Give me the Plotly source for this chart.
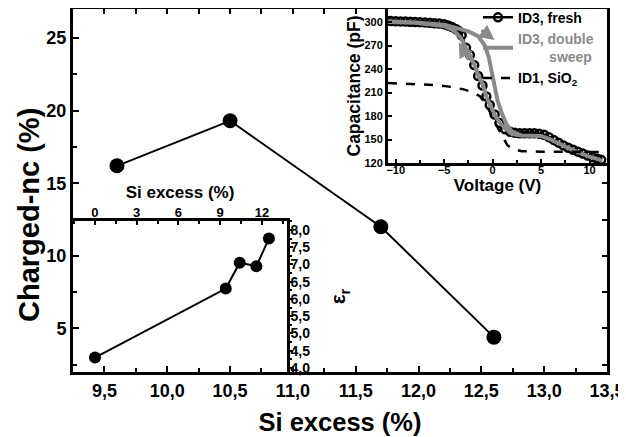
import plotly.graph_objects as go

# ---------------- data ----------------
# main panel: Charged-nc vs Si excess
si_main = [9.6, 10.5, 11.7, 12.6]
charged_nc = [16.2, 19.3, 12.0, 4.4]

# lower-left inset: relative permittivity vs Si excess
si_inset = [0.0, 9.4, 10.4, 11.6, 12.5]
eps_r = [4.3, 6.3, 7.05, 6.95, 7.75]

# upper-right inset: C-V curves
v_fresh = [-11.0, -10.5, -10.0, -9.5, -9.0, -8.5, -8.0, -7.5, -7.0, -6.5, -6.0, -5.5, -5.0,
           -4.6, -4.2, -3.8, -3.5, -3.2, -2.75, -2.35,
           -1.9, -1.5, -1.05, -0.65, -0.3, 0.2, 0.7, 1.3, 1.8, 2.3, 2.8, 3.3, 3.8, 4.3, 4.8, 5.3,
           5.8, 6.3, 6.8, 7.3, 7.8, 8.3, 8.8, 9.3, 9.8, 10.3, 10.8, 11.2]
c_fresh = [301.5, 301.3, 301.0, 300.8, 300.5, 300.2, 300.0, 299.8, 299.5, 299.0, 298.5, 298.0, 297.0,
           295.5, 293.5, 291.0, 288.5, 283.0, 267.0, 258.0,
           245.0, 231.0, 219.0, 205.0, 194.0, 182.0, 171.0, 163.0, 160.0, 158.5, 158.0, 158.0, 158.0, 158.0, 157.5, 156.0,
           153.0, 149.5, 146.0, 142.5, 139.5, 137.0, 134.5, 132.0, 129.5, 127.5, 125.5, 124.0]

v_double = [-11.0, -8.0, -5.0, -3.5, -2.5, -1.5, -0.8, -0.4, -0.1, 0.2, 0.5, 0.9, 1.4, 2.0,
            3.0, 5.0, 6.0, 8.0, 10.0, 11.3,
            10.0, 8.0, 6.0, 5.0, 3.0, 2.0, 1.4, 0.7, 0.2, -0.3, -0.7, -1.0, -1.5, -1.9,
            -2.4, -2.8, -3.3, -4.0, -5.0, -8.0, -11.0]
c_double = [301.0, 299.5, 296.5, 292.0, 288.0, 282.0, 270.0, 255.0, 237.0, 218.0, 200.0, 185.0, 170.0, 160.0,
            155.0, 154.5, 150.0, 138.0, 128.0, 123.0,
            128.0, 138.0, 150.0, 154.5, 155.0, 157.0, 163.0, 172.0, 182.0, 195.0, 206.0, 220.0, 232.0, 246.0,
            258.0, 268.0, 280.0, 289.0, 295.0, 299.0, 300.0]

v_sio2 = [-10.8, -8.0, -6.0, -4.5, -3.0, -2.0, -1.3, -0.8, -0.4, 0.0, 0.5, 1.0, 1.5, 2.0,
          3.0, 5.0, 8.0, 11.0]
c_sio2 = [222.0, 221.0, 219.5, 217.5, 214.0, 210.0, 205.0, 197.0, 188.0, 177.0, 165.0, 153.0, 143.0, 138.0,
          135.0, 134.5, 134.0, 134.0]

# sweep-direction arrows (tail V, tail C, head V, head C)
arrow_tail_v = [-1.3, -2.4]
arrow_tail_c = [291.0, 250.0]
arrow_head_v = [0.2, -3.5]
arrow_head_c = [277.0, 274.0]

# ---------------- style ----------------
FONT = "Liberation Sans, Arial, sans-serif"
GRAY = "#8a8a8a"
OFF = 8                      # page body margin of the html page
W, H = 626 - OFF, 437 - OFF
L, R, T, B = 73 - OFF, 19, 9 - OFF, 65
PW, PH = W - L - R, H - T - B   # 534 x 363


def fnt(size, color="black"):
    return dict(family=FONT, size=size, color=color, weight="bold")


fig = go.Figure()

fig.add_trace(go.Scatter(x=si_main, y=charged_nc, mode="lines+markers",
                         line=dict(color="black", width=2),
                         marker=dict(size=15, color="black"),
                         showlegend=False, xaxis="x", yaxis="y"))

fig.add_trace(go.Scatter(x=si_inset, y=eps_r, mode="lines+markers",
                         line=dict(color="black", width=2),
                         marker=dict(size=12, color="black"),
                         showlegend=False, xaxis="x2", yaxis="y2"))

fig.add_trace(go.Scatter(x=v_fresh, y=c_fresh, mode="lines+markers", name="ID3, fresh",
                         line=dict(color="black", width=2.5),
                         marker=dict(symbol="circle-open", size=8, color="black",
                                     line=dict(width=2.5, color="black")),
                         xaxis="x3", yaxis="y3"))

fig.add_trace(go.Scatter(x=v_double, y=c_double, mode="lines",
                         name=("<span style='color:%s'>ID3, double</span><br>"
                               "<span style='color:%s'>%ssweep</span>") % (GRAY, GRAY, "\u00a0" * 8),
                         line=dict(color=GRAY, width=4),
                         xaxis="x3", yaxis="y3"))

fig.add_trace(go.Scatter(x=v_sio2, y=c_sio2, mode="lines", name="ID1, SiO<sub>2</sub>",
                         line=dict(color="black", width=2.5, dash="dash"),
                         xaxis="x3", yaxis="y3"))

# helper empty traces for partial mirrored ticks of the main frame
fig.add_trace(go.Scatter(x=[None], y=[None], showlegend=False, hoverinfo="skip",
                         xaxis="x4", yaxis="y"))
fig.add_trace(go.Scatter(x=[None], y=[None], showlegend=False, hoverinfo="skip",
                         xaxis="x", yaxis="y4"))

# domains (in plot-area fractions)
ins_x1 = (287 - 73) / PW
ins_y1 = (372 - 221) / PH
cv_x0 = (388 - 73) / PW
cv_y0 = (372 - 163) / PH

x_range = [9.25, 13.5]
y_range = [2.0, 27.0]

common = dict(showgrid=False, zeroline=False, linecolor="black", tickcolor="black", automargin=False)

fig.update_layout(
    template="none",
    width=W, height=H,
    margin=dict(l=L, r=R, t=T, b=B, autoexpand=False),
    paper_bgcolor="white", plot_bgcolor="rgba(0,0,0,0)",
    separators=",.",
    font=dict(family=FONT, color="black"),
    xaxis=dict(domain=[0, 1], anchor="y", range=x_range, dtick=0.5, tick0=9.5, tickformat=".1f",
               ticks="inside", ticklen=6, tickwidth=2,
               minor=dict(dtick=0.25, tick0=9.5, ticks="inside", ticklen=4, tickwidth=2, tickcolor="black"),
               showline=True, linewidth=3, mirror=True, tickfont=fnt(18),
               title=dict(text="Si excess (%)", font=fnt(25.5), standoff=14), **common),
    yaxis=dict(domain=[0, 1], anchor="x", range=y_range, dtick=5, tick0=0,
               ticks="inside", ticklen=6, tickwidth=2,
               minor=dict(dtick=2.5, tick0=0, ticks="inside", ticklen=4, tickwidth=2, tickcolor="black"),
               showline=True, linewidth=3, mirror=True, tickfont=fnt(18), **common),
    xaxis4=dict(domain=[0, cv_x0], anchor="y", side="top",
                range=[x_range[0], x_range[0] + (x_range[1] - x_range[0]) * cv_x0],
                dtick=0.25, tick0=9.5, ticks="inside", ticklen=5, tickwidth=2,
                showticklabels=False, showline=False, **common),
    yaxis4=dict(domain=[0, cv_y0], anchor="x", side="right",
                range=[y_range[0], y_range[0] + (y_range[1] - y_range[0]) * cv_y0],
                dtick=2.5, tick0=0, ticks="inside", ticklen=5, tickwidth=2,
                showticklabels=False, showline=False, **common),
    xaxis2=dict(domain=[0, ins_x1], anchor="y2", side="top", range=[-1.58, 13.8],
                dtick=3, tick0=0, ticks="inside", ticklen=4, tickwidth=2,
                minor=dict(dtick=1.5, tick0=0, ticks="inside", ticklen=3, tickwidth=2, tickcolor="black"),
                showline=True, linewidth=2.5, tickfont=fnt(13), ticklabelstandoff=-4,
                title=dict(text="Si excess (%)", font=fnt(17), standoff=3), **common),
    yaxis2=dict(domain=[0, ins_y1], anchor="x2", side="right", range=[3.88, 8.26],
                dtick=0.5, tick0=4.5, tickformat=".1f", ticks="outside", ticklen=3, tickwidth=2,
                minor=dict(dtick=0.25, tick0=4.5, ticks="outside", ticklen=2, tickwidth=1.5, tickcolor="black"),
                showline=True, linewidth=2.5, tickfont=fnt(14), ticklabelstandoff=-5,
                title=dict(text="ε<sub>r</sub>", font=fnt(21), standoff=22), **common),
    xaxis3=dict(domain=[cv_x0, 1], anchor="y3", range=[-10.8, 11.8], dtick=5, tick0=0,
                ticks="inside", ticklen=4, tickwidth=2,
                minor=dict(dtick=2.5, tick0=0, ticks="inside", ticklen=3, tickwidth=2, tickcolor="black"),
                showline=True, linewidth=3, mirror=True, tickfont=fnt(11), ticklabelstandoff=-5,
                title=dict(text="Voltage (V)", font=fnt(17), standoff=3), **common),
    yaxis3=dict(domain=[cv_y0, 1], anchor="x3", range=[120, 316.6], dtick=30, tick0=120,
                ticks="inside", ticklen=4, tickwidth=2,
                showline=True, linewidth=3, mirror=True, tickfont=fnt(11),
                title=dict(text="Capacitance (pF)", font=fnt(17.5), standoff=0), **common),
    legend=dict(x=(478 - 73) / PW, y=1.02, xanchor="left", yanchor="top",
                bgcolor="rgba(0,0,0,0)", borderwidth=0, font=fnt(14),
                tracegroupgap=0, itemwidth=30),
)

# main y-axis title (placed as in the reference, slightly below the axis centre)
fig.add_annotation(text="Charged-nc (%)", xref="paper", yref="paper",
                   x=(29 - 73) / PW, y=(372 - 215) / PH, xanchor="center", yanchor="middle",
                   textangle=-90, showarrow=False, font=fnt(29))

for tv, tc, hv, hc in zip(arrow_tail_v, arrow_tail_c, arrow_head_v, arrow_head_c):
    fig.add_annotation(x=hv, y=hc, ax=tv, ay=tc, xref="x3", yref="y3", axref="x3", ayref="y3",
                       text="", showarrow=True, arrowhead=2, arrowsize=1, arrowwidth=3,
                       arrowcolor=GRAY)

fig.write_html("out.html")
